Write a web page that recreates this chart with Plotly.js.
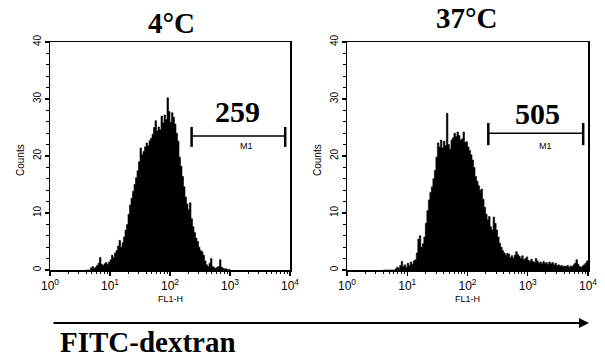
<!DOCTYPE html>
<html>
<head>
<meta charset="utf-8">
<script src="https://cdn.plot.ly/plotly-3.0.1.min.js"></script>
<style>html,body{margin:0;padding:0;background:#fff;}#chart{width:605px;height:359px;}</style>
</head>
<body>
<div id="chart"></div>
<script>
// ---- data ----
const panelTitles = ['4\u00B0C', '37\u00B0C'];
const gateValues = ['259', '505'];
const gateName = 'M1';
const binStartLog = 0.6;      // log10 of first channel bin
const binStepLog = 0.025;     // bin width in log10 units
const leftCounts = [
  0,0,0,0.4,0.6,0.3,0.5,0.8,
  1.2,2.2,1.0,0.8,1.1,1.3,1.0,1.4,
  1.8,2.6,2.2,3.0,3.4,4.2,5.2,4.0,
  4.8,5.8,7.0,8.0,9.8,11.4,12.6,13.8,
  15.0,16.2,17.4,19.0,21.4,20.2,20.8,21.6,
  22.3,21.8,22.7,23.1,23.8,25.0,26.2,24.4,
  25.1,24.6,27.0,25.8,27.2,26.4,30.2,27.8,
  25.9,27.6,26.8,25.6,24.0,22.6,19.8,18.2,
  16.4,14.6,12.8,11.6,10.6,11.8,9.0,7.6,
  6.6,5.6,5.0,4.0,3.4,3.2,2.6,1.6,
  0.9,0.6,1.2,2.0,0.6,0.4,0.3,0.5,
  0.6,1.8,0.5,0.3,0.2,0.2,0.1,0.1,
  0
];
const rightCounts = [
  0,0,0,0,0,0,0,0,
  0.2,0.5,0.3,0.8,1.5,0.6,0.9,0.5,
  1.2,0.8,1.4,1.0,1.6,1.8,3.0,5.4,
  6.0,4.0,4.6,5.8,8.2,10.4,12.3,13.6,
  14.6,16.0,17.5,19.8,22.3,21.6,22.8,21.4,
  22.6,21.8,27.5,22.0,21.2,22.8,23.2,24.0,
  23.4,24.2,23.6,22.8,23.0,24.2,22.4,22.5,
  21.6,21.0,20.2,19.3,18.0,16.4,15.6,14.8,
  14.0,14.2,12.4,11.0,9.8,8.8,9.4,7.6,
  7.0,9.3,8.2,7.0,5.8,4.7,4.0,3.4,
  3.0,2.6,2.9,2.8,2.2,2.5,2.1,2.6,
  3.2,2.7,2.4,2.0,2.5,1.8,2.0,2.3,
  1.7,1.5,1.9,1.5,1.3,2.0,1.6,1.2,
  1.4,1.1,1.5,1.2,1.3,1.0,1.4,1.1,
  1.3,0.9,1.2,0.8,0.9,0.7,0.8,0.6,
  0.7,0.6,0.8,0.5,0.7,0.6,0.9,1.2,
  1.8,1.0,0.6,0.5,0.7,0.9,1.2,1.6,
  1.0
];
// gate M1: [startLog, endLog], bar level (counts), cap [low, high]
const gateLeftRange = [2.36, 3.92];
const gateRightRange = [2.345, 3.92];
const gateLeftLevel = [23.5, 21.6, 25.1];
const gateRightLevel = [24.0, 21.9, 25.8];
const xTickVals = [1, 10, 100, 1000, 10000];
const xTickText = ['10<sup>0</sup>','10<sup>1</sup>','10<sup>2</sup>','10<sup>3</sup>','10<sup>4</sup>'];
const yTickVals = [0, 10, 20, 30, 40];
const xLabel = 'FL1-H';
const yLabel = 'Counts';
const bottomLabel = 'FITC-dextran';

// ---- build ----
function xs(counts){ return counts.map((_, i) => Math.pow(10, binStartLog + i*binStepLog)); }
const minorVals = [];
for (let d = 1; d < 10000; d *= 10) for (let k = 2; k <= 9; k++) minorVals.push(d*k);

const W = 605, H = 359;
const px = v => v / W, py = v => 1 - v / H;

const traces = [
  {x: xs(leftCounts), y: leftCounts, xaxis:'x', yaxis:'y', type:'scatter', mode:'lines',
   line:{shape:'hv', color:'black', width:0.6}, fill:'tozeroy', fillcolor:'black', hoverinfo:'skip'},
  {x: xs(rightCounts), y: rightCounts, xaxis:'x2', yaxis:'y2', type:'scatter', mode:'lines',
   line:{shape:'hv', color:'black', width:0.6}, fill:'tozeroy', fillcolor:'black', hoverinfo:'skip'}
];

const tickFont = {family:'"Liberation Sans", Arial, sans-serif', size:12, color:'black'};
function xax(dom, anchor){
  return {domain:dom, anchor:anchor, type:'log', range:[0,4], showline:true, mirror:true,
    linecolor:'black', linewidth:1.5, ticks:'outside', ticklen:4, tickwidth:1.2, tickcolor:'black',
    tickmode:'array', tickvals:xTickVals, ticktext:xTickText, tickfont:tickFont, ticklabelstandoff:0,
    minor:{ticks:'outside', ticklen:2.5, tickwidth:1, tickcolor:'black', tickmode:'array', tickvals:minorVals, showgrid:false},
    showgrid:false, zeroline:false, fixedrange:true};
}
function yax(dom, anchor){
  return {domain:dom, anchor:anchor, range:[0,40], showline:true, mirror:true,
    linecolor:'black', linewidth:1.5, ticks:'outside', ticklen:4, tickwidth:1.2, tickcolor:'black',
    tickmode:'array', tickvals:yTickVals, tickangle:-90,
    tickfont:{family:'"Liberation Sans", Arial, sans-serif', size:10, color:'black'},
    minor:{ticks:'outside', ticklen:2.5, tickwidth:1, tickcolor:'black', dtick:2, showgrid:false},
    showgrid:false, zeroline:false, fixedrange:true};
}
const yDom = [py(270), py(42)];

const serifBold = {family:'"Liberation Serif", "Times New Roman", serif', color:'black'};
const annotations = [];
const shapes = [];
const panels = [
  {xr:'x', yr:'y', cx:171, ty:23, range:gateLeftRange, lvl:gateLeftLevel, val:gateValues[0], vx:237, vy:112, mx:246, x0:50, x1:290},
  {xr:'x2', yr:'y2', cx:467, ty:18, range:gateRightRange, lvl:gateRightLevel, val:gateValues[1], vx:537, vy:114, mx:545, x0:347, x1:588}
];
panels.forEach((p, i) => {
  annotations.push({text:'<b>'+panelTitles[i]+'</b>', xref:'paper', yref:'paper', x:px(p.cx), y:py(p.ty),
    xanchor:'center', yanchor:'middle', showarrow:false, font:Object.assign({size:29}, serifBold)});
  annotations.push({text:'<b>'+p.val+'</b>', xref:'paper', yref:'paper', x:px(p.vx), y:py(p.vy),
    xanchor:'center', yanchor:'middle', showarrow:false, font:Object.assign({size:30}, serifBold)});
  annotations.push({text:gateName, xref:'paper', yref:'paper', x:px(p.mx), y:py(146),
    xanchor:'center', yanchor:'middle', showarrow:false, font:{family:'"Liberation Sans", Arial', size:9, color:'black'}});
  annotations.push({text:xLabel, xref:'paper', yref:'paper', x:px((p.x0+p.x1)/2), y:py(299),
    xanchor:'center', yanchor:'middle', showarrow:false, font:{family:'"Liberation Sans", Arial', size:9, color:'black'}});
  annotations.push({text:yLabel, xref:'paper', yref:'paper', x:px(p.x0-29), y:py(160), textangle:-90,
    xanchor:'center', yanchor:'middle', showarrow:false, font:{family:'"Liberation Sans", Arial', size:10, color:'black'}});
  const a = Math.pow(10, p.range[0]), b = Math.pow(10, p.range[1]);
  shapes.push({type:'line', xref:p.xr, yref:p.yr, x0:a, x1:b, y0:p.lvl[0], y1:p.lvl[0], line:{color:'black', width:1.5}});
  shapes.push({type:'line', xref:p.xr, yref:p.yr, x0:a, x1:a, y0:p.lvl[1], y1:p.lvl[2], line:{color:'black', width:2.5}});
  shapes.push({type:'line', xref:p.xr, yref:p.yr, x0:b, x1:b, y0:p.lvl[1], y1:p.lvl[2], line:{color:'black', width:2.5}});
});
// bottom arrow
annotations.push({text:'', xref:'paper', yref:'paper', x:px(589), y:py(323), ax:-537, ay:0, axref:'pixel', ayref:'pixel',
  showarrow:true, arrowhead:2, arrowsize:1, arrowwidth:2, arrowcolor:'black'});
annotations.push({text:'<b>'+bottomLabel+'</b>', xref:'paper', yref:'paper', x:px(58), y:py(342),
  xanchor:'left', yanchor:'middle', showarrow:false, font:Object.assign({size:29}, serifBold)});

const layout = {
  width:W, height:H, margin:{l:0, r:0, t:0, b:0}, paper_bgcolor:'white', plot_bgcolor:'white',
  showlegend:false,
  xaxis: xax([px(50), px(290)], 'y'),
  yaxis: yax(yDom, 'x'),
  xaxis2: xax([px(347), px(588)], 'y2'),
  yaxis2: yax(yDom, 'x2'),
  annotations: annotations, shapes: shapes
};
Plotly.newPlot('chart', traces, layout, {staticPlot:true, displayModeBar:false});
</script>
</body>
</html>
